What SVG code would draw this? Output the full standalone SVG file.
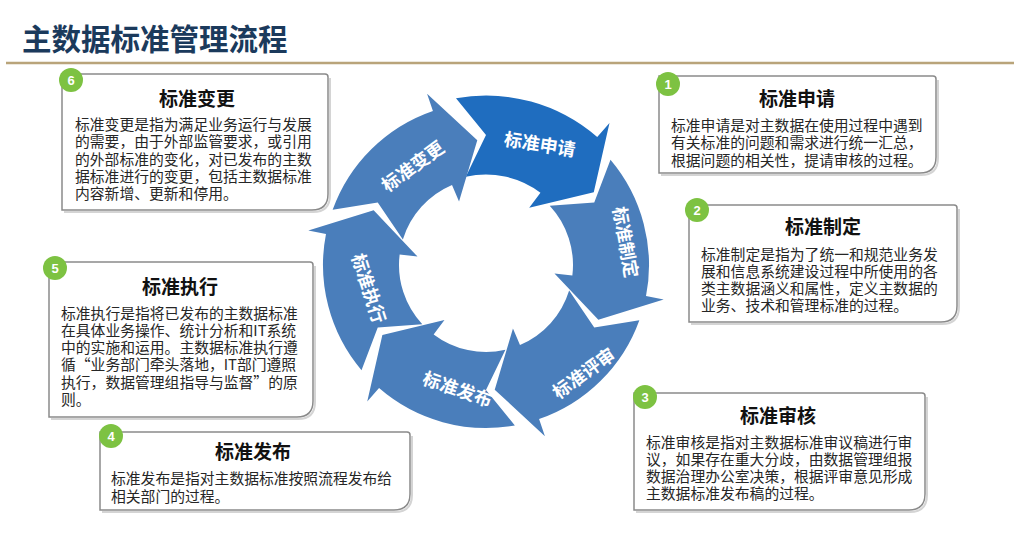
<svg xmlns="http://www.w3.org/2000/svg" xmlns:xlink="http://www.w3.org/1999/xlink" width="1026" height="546" viewBox="0 0 1026 546">
<style>
.title{font-family:"Noto Sans CJK SC","Noto Sans",sans-serif;font-weight:700;font-size:29.5px;fill:#1b3a5c}
.seg{fill:#4a7ebb}
.seg.hi{fill:#1f6dbf}
.al{font-family:"Noto Sans CJK SC",sans-serif;font-weight:700;font-size:18px;fill:#fff;text-anchor:middle;dominant-baseline:central}
.box{fill:#fff;stroke:#8a8a8a;stroke-width:1.5}
.sh{fill:none;stroke:#d4d4d4;stroke-width:2}
.bt{font-family:"Noto Sans CJK SC",sans-serif;font-weight:700;font-size:19px;fill:#111;text-anchor:middle;dominant-baseline:central}
.tx{font-family:"Noto Sans CJK SC",sans-serif;font-size:14.8px;fill:#262626;dominant-baseline:central}
.badge{fill:#7dc242}
.bn{font-family:"Liberation Sans",Arial,sans-serif;font-weight:700;font-size:13px;fill:#fff;text-anchor:middle;dominant-baseline:central}
</style>
<defs>
<path id="arrow" d="M -28.86 -160.42 A 163 163 0 0 1 106.94 -123.02 L 118.75 -136.60 L 103.63 -69.90 L 41.53 -55.11 L 52.36 -69.48 A 87 87 0 0 0 -19.42 -84.80 L 0 -125 Z"/>
</defs>
<rect width="1026" height="546" fill="#fff"/>
<text class="title" x="22" y="50">主数据标准管理流程</text>
<line x1="6" y1="63" x2="1014" y2="63" stroke="#b9a47a" stroke-width="2.5"/>

<g id="connectors"></g>

<g id="cycle-shenqing">
<use xlink:href="#arrow" class="seg hi" transform="translate(486,265) scale(1.04)"/>
<text class="al" transform="translate(540,143) rotate(9)">标准申请</text>
</g>
<g id="cycle-zhiding">
<use xlink:href="#arrow" class="seg" transform="translate(486,265) rotate(60)"/>
<text class="al" transform="translate(627,242) rotate(80)">标准制定</text>
</g>
<g id="cycle-pingshen">
<use xlink:href="#arrow" class="seg" transform="translate(486,265) rotate(120)"/>
<text class="al" transform="translate(583,372) rotate(-36)">标准评审</text>
</g>
<g id="cycle-fabu">
<use xlink:href="#arrow" class="seg" transform="translate(486,265) rotate(180)"/>
<text class="al" transform="translate(458,388) rotate(19)">标准发布</text>
</g>
<g id="cycle-zhixing">
<use xlink:href="#arrow" class="seg" transform="translate(486,265) rotate(240)"/>
<text class="al" transform="translate(370,288) rotate(72)">标准执行</text>
</g>
<g id="cycle-biangeng">
<use xlink:href="#arrow" class="seg" transform="translate(486,265) rotate(300)"/>
<text class="al" transform="translate(412,165) rotate(-36)">标准变更</text>
</g>

<g id="box6">
<path class="sh" d="M330 78 V195 Q330 212 313 212 H64"/>
<path class="box" d="M62 74 H325 Q328 74 328 77 V194 Q328 210 312 210 H62 Z"/>
<circle class="badge" cx="71" cy="80" r="12"/><text class="bn" x="71" y="80">6</text>
<text class="bt" x="197" y="97">标准变更</text>
<text class="tx" x="75" y="123.5">标准变更是指为满足业务运行与发展</text>
<text class="tx" x="75" y="140.8">的需要，由于外部监管要求，或引用</text>
<text class="tx" x="75" y="158.1">的外部标准的变化，对已发布的主数</text>
<text class="tx" x="75" y="175.4">据标准进行的变更，包括主数据标准</text>
<text class="tx" x="75" y="192.7">内容新增、更新和停用。</text>
</g>

<g id="box1">
<path class="sh" d="M938 80 V158 Q938 175 921 175 H661"/>
<path class="box" d="M659 76 H933 Q936 76 936 79 V157 Q936 173 920 173 H659 Z"/>
<circle class="badge" cx="668" cy="84" r="12"/><text class="bn" x="668" y="84">1</text>
<text class="bt" x="797" y="97">标准申请</text>
<text class="tx" x="671" y="124.7">标准申请是对主数据在使用过程中遇到</text>
<text class="tx" x="671" y="141.9">有关标准的问题和需求进行统一汇总，</text>
<text class="tx" x="671" y="159.1">根据问题的相关性，提请审核的过程。</text>
</g>

<g id="box2">
<path class="sh" d="M959 209 V307 Q959 324 942 324 H691"/>
<path class="box" d="M689 205 H954 Q957 205 957 208 V306 Q957 322 941 322 H689 Z"/>
<circle class="badge" cx="697" cy="210" r="12"/><text class="bn" x="697" y="210">2</text>
<text class="bt" x="823" y="225">标准制定</text>
<text class="tx" x="701" y="253.3">标准制定是指为了统一和规范业务发</text>
<text class="tx" x="701" y="270.5">展和信息系统建设过程中所使用的各</text>
<text class="tx" x="701" y="287.7">类主数据涵义和属性，定义主数据的</text>
<text class="tx" x="701" y="304.9">业务、技术和管理标准的过程。</text>
</g>

<g id="box3">
<path class="sh" d="M927 397 V495 Q927 512 910 512 H636"/>
<path class="box" d="M634 393 H922 Q925 393 925 396 V494 Q925 510 909 510 H634 Z"/>
<circle class="badge" cx="645" cy="397" r="12"/><text class="bn" x="645" y="397">3</text>
<text class="bt" x="778" y="414.5">标准审核</text>
<text class="tx" x="646" y="441.5">标准审核是指对主数据标准审议稿进行审</text>
<text class="tx" x="646" y="458.5">议，如果存在重大分歧，由数据管理组报</text>
<text class="tx" x="646" y="475.5">数据治理办公室决策，根据评审意见形成</text>
<text class="tx" x="646" y="492.5">主数据标准发布稿的过程。</text>
</g>

<g id="box4">
<path class="sh" d="M412 436 V495 Q412 512 395 512 H102"/>
<path class="box" d="M100 432 H407 Q410 432 410 435 V494 Q410 510 394 510 H100 Z"/>
<circle class="badge" cx="111" cy="436" r="12"/><text class="bn" x="111" y="436">4</text>
<text class="bt" x="253" y="450.5">标准发布</text>
<text class="tx" x="111" y="477.5">标准发布是指对主数据标准按照流程发布给</text>
<text class="tx" x="111" y="495">相关部门的过程。</text>
</g>

<g id="box5">
<path class="sh" d="M315 266 V402 Q315 419 298 419 H51"/>
<path class="box" d="M49 262 H310 Q313 262 313 265 V401 Q313 417 297 417 H49 Z"/>
<circle class="badge" cx="55" cy="268" r="12"/><text class="bn" x="55" y="268">5</text>
<text class="bt" x="180" y="285.5">标准执行</text>
<text class="tx" x="61" y="312.3">标准执行是指将已发布的主数据标准</text>
<text class="tx" x="61" y="329.5">在具体业务操作、统计分析和IT系统</text>
<text class="tx" x="61" y="346.7">中的实施和运用。主数据标准执行遵</text>
<text class="tx" x="61" y="363.9">循“业务部门牵头落地，IT部门遵照</text>
<text class="tx" x="61" y="381.1">执行，数据管理组指导与监督”的原</text>
<text class="tx" x="61" y="398.3">则。</text>
</g>
</svg>
